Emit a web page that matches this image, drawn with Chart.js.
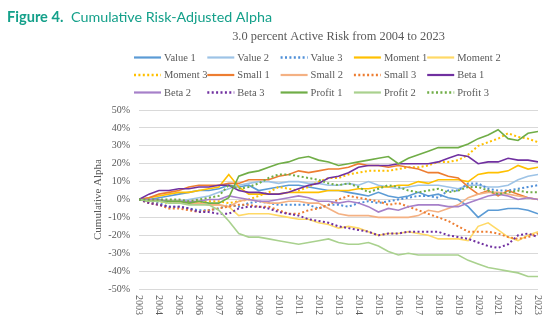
<!DOCTYPE html>
<html>
<head>
<meta charset="utf-8">
<script src="https://cdn.jsdelivr.net/npm/chart.js@4.4.1/dist/chart.umd.min.js"></script>
<style>
  html, body { margin: 0; padding: 0; background: #ffffff; }
  #wrap { position: relative; width: 550px; height: 321px; }
</style>
</head>
<body>
<div id="wrap"><canvas id="chart" width="550" height="321"></canvas></div>
<script>
// Half-year observation points
const periods = [
  2003, 2003.5, 2004, 2004.5, 2005, 2005.5, 2006, 2006.5, 2007, 2007.5,
  2008, 2008.5, 2009, 2009.5, 2010, 2010.5, 2011, 2011.5, 2012, 2012.5,
  2013, 2013.5, 2014, 2014.5, 2015, 2015.5, 2016, 2016.5, 2017, 2017.5,
  2018, 2018.5, 2019, 2019.5, 2020, 2020.5, 2021, 2021.5, 2022, 2022.5,
  2023
];

const yearTicks = ['2003','2004','2005','2006','2007','2008','2009','2010','2011','2012',
  '2013','2014','2015','2016','2017','2018','2019','2020','2021','2022','2023'];

const seriesNames = ['Value 1','Value 2','Value 3','Moment 1','Moment 2','Moment 3',
  'Small 1','Small 2','Small 3','Beta 1','Beta 2','Beta 3','Profit 1','Profit 2','Profit 3'];

// Cumulative alpha, percent
const value1 = [0, 0, 1, 2, 3, 4, 5, 5, 6, 8,
  7, 8, 5, 6, 7, 8, 8, 7, 6, 5,
  5, 4, 3, 2, 4, 2, 1, 2, 4, 2,
  3, 1, 0, -4, -10, -6, -6, -5, -5, -6,
  -8];
const value2 = [0, -1, -1, -1, -1, 0, 1, 2, 4, 6,
  8, 9, 10, 10, 9, 10, 10, 9, 9, 8,
  8, 9, 8, 10, 8, 7, 6, 7, 8, 8,
  8, 7, 6, 8, 8, 7, 7, 8, 11, 13,
  14];
const value3 = [0, -1, -2, -4, -4, -5, -6, -6, -5, -3,
  -4, -2, -1, -2, -3, -3, -3, -3, -5, -3,
  -3, -4, -2, -1, -2, -1, 0, 1, 2, 2,
  1, 5, 5, 9, 9, 6, 5, 5, 6, 7,
  8];
const moment1 = [0, 1, 2, 3, 4, 4, 5, 6, 7, 14,
  7, 3, 3, 3, 3, 4, 4, 4, 4, 5,
  5, 5, 6, 6, 7, 7, 8, 8, 10, 9,
  11, 11, 11, 10, 14, 15, 15, 16, 19, 17,
  18];
const moment2 = [0, 0, -1, -1, -1, -2, -2, -3, -3, -4,
  -9, -8, -8, -8, -9, -10, -11, -11, -13, -14,
  -16, -15, -16, -18, -20, -19, -19, -18, -19, -20,
  -22, -22, -22, -23, -15, -13, -17, -21, -23, -20,
  -18];
const moment3 = [0, -1, -1, -2, -2, -2, -2, -1, -1, -2,
  -1, 0, 2, 4, 7, 6, 5, 7, 10, 12,
  12, 14, 15, 16, 16, 16, 17, 18, 18, 19,
  21, 21, 22, 25, 30, 32, 34, 37, 35, 34,
  32];
const small1 = [0, 1, 3, 4, 5, 7, 8, 8, 8, 9,
  9, 11, 11, 11, 13, 14, 16, 15, 16, 17,
  17, 18, 20, 19, 19, 18, 19, 18, 17, 15,
  15, 13, 12, 7, 3, 5, 2, 5, 3, 1,
  0];
const small2 = [0, -1, -1, -1, -2, -2, -2, -3, -3, -4,
  -1, 0, -1, -2, -2, -1, -1, -2, -2, -5,
  -8, -9, -9, -9, -10, -10, -10, -10, -9, -6,
  -7, -5, -3, 1, 3, 4, 4, 3, 2, 1,
  0];
const small3 = [0, -2, -3, -5, -5, -6, -7, -6, -5, -4,
  -3, -3, -4, -4, -6, -8, -8, -6, -5, -3,
  0, 2, 1, 0, -1, -3, -2, -4, -6, -8,
  -10, -12, -15, -18, -18, -18, -19, -21, -22, -21,
  -19];
const beta1 = [0, 3, 5, 5, 6, 6, 7, 7, 8, 8,
  5, 4, 4, 3, 3, 4, 6, 8, 9, 12,
  13, 15, 18, 19, 19, 19, 20, 20, 20, 20,
  21, 23, 25, 24, 20, 21, 21, 23, 22, 22,
  21];
const beta2 = [0, 0, 0, -1, -1, -1, -1, 0, 0, 2,
  1, 0, -1, -1, 0, 1, 2, 1, -1, -1,
  -2, -1, -2, -4, -7, -5, -6, -4, -3, -3,
  -3, -4, -4, -2, 0, 2, 3, 2, 0, 1,
  0];
const beta3 = [0, -2, -3, -4, -4, -5, -7, -7, -8, -8,
  -5, -4, -4, -5, -7, -8, -9, -11, -12, -13,
  -15, -16, -17, -18, -20, -19, -19, -18, -18, -18,
  -18, -20, -21, -22, -24, -26, -27, -25, -20, -19,
  -21];
const profit1 = [0, -1, -1, -1, -1, -2, -1, -2, -2, 1,
  13, 15, 16, 18, 20, 21, 23, 24, 22, 21,
  19, 20, 21, 22, 23, 24, 20, 23, 25, 27,
  29, 29, 29, 31, 34, 36, 39, 34, 33, 37,
  38];
const profit2 = [0, -1, -1, -2, -2, -3, -3, -3, -6, -12,
  -19, -21, -21, -22, -23, -24, -25, -24, -23, -22,
  -24, -25, -25, -24, -26, -29, -31, -30, -31, -31,
  -31, -31, -31, -34, -36, -38, -39, -40, -41, -43,
  -43];
const profit3 = [0, 0, 0, 0, 0, -1, 0, 1, 2, 8,
  6, 7, 9, 12, 14, 14, 13, 12, 11, 9,
  8, 9, 7, 4, 6, 8, 7, 5, 4, 5,
  6, 4, 5, 7, 7, 5, 3, 4, 5, 4,
  4];

const seriesValues = [value1, value2, value3, moment1, moment2, moment3,
  small1, small2, small3, beta1, beta2, beta3, profit1, profit2, profit3];

// Line styles per series
const styles = [
  { color: '#5B9BD5', dotted: false },
  { color: '#9DC3E6', dotted: false },
  { color: '#4F8FD8', dotted: true },
  { color: '#FFC000', dotted: false },
  { color: '#FFD966', dotted: false },
  { color: '#FFC000', dotted: true },
  { color: '#ED7D31', dotted: false },
  { color: '#F4B183', dotted: false },
  { color: '#ED7D31', dotted: true },
  { color: '#7030A0', dotted: false },
  { color: '#A680C9', dotted: false },
  { color: '#7030A0', dotted: true },
  { color: '#70AD47', dotted: false },
  { color: '#A9D18E', dotted: false },
  { color: '#70AD47', dotted: true }
];

const TEXT_GRAY = '#595959';
const SERIF = '"Liberation Serif", "Times New Roman", serif';
const DOT = [2, 2.4];

const datasets = seriesNames.map((name, i) => ({
  label: name,
  data: periods.map((p, k) => ({ x: p, y: seriesValues[i][k] })),
  borderColor: styles[i].color,
  backgroundColor: styles[i].color,
  borderWidth: styles[i].dotted ? 2 : 1.6,
  borderDash: styles[i].dotted ? DOT : [],
  borderCapStyle: 'butt',
  pointRadius: 0,
  tension: 0,
  fill: false,
  order: seriesNames.length - i
}));

// Heading, subtitle, legend grid and vertical year labels
const decorations = {
  id: 'decorations',
  afterDraw(chart) {
    const ctx = chart.ctx;
    ctx.save();

    // Figure heading
    ctx.fillStyle = '#14A08A';
    ctx.textBaseline = 'alphabetic';
    ctx.textAlign = 'left';
    ctx.font = 'bold 14.6px Lato';
    ctx.fillText('Figure 4.', 7, 22);
    ctx.font = '14.3px Lato';
    ctx.fillText('Cumulative Risk-Adjusted Alpha', 71, 22);

    // Subtitle
    ctx.fillStyle = TEXT_GRAY;
    ctx.font = '12.4px ' + SERIF;
    ctx.textAlign = 'center';
    ctx.textBaseline = 'middle';
    ctx.fillText('3.0 percent Active Risk from 2004 to 2023', 338.5, 37);

    // Legend: five columns, three rows
    ctx.font = '10.5px ' + SERIF;
    ctx.textAlign = 'left';
    chart.data.datasets.forEach((ds, i) => {
      const col = i % 5, row = Math.floor(i / 5);
      const x0 = 134 + col * 73.3;
      const y0 = 57.5 + row * 17.5;
      ctx.beginPath();
      ctx.strokeStyle = ds.borderColor;
      ctx.lineWidth = ds.borderWidth + 0.6;
      ctx.setLineDash(ds.borderDash);
      ctx.lineCap = 'butt';
      ctx.moveTo(x0, y0);
      ctx.lineTo(x0 + 27, y0);
      ctx.stroke();
      ctx.setLineDash([]);
      ctx.fillStyle = TEXT_GRAY;
      ctx.fillText(ds.label, x0 + 30, y0 + 0.5);
    });

    // Year labels, rotated to read downward
    const xs = chart.scales.x;
    const baseY = chart.chartArea.bottom + 6;
    ctx.font = '10px ' + SERIF;
    ctx.fillStyle = TEXT_GRAY;
    ctx.textAlign = 'left';
    ctx.textBaseline = 'middle';
    yearTicks.forEach(label => {
      const px = xs.getPixelForValue(Number(label));
      ctx.save();
      ctx.translate(px, baseY);
      ctx.rotate(Math.PI / 2);
      ctx.fillText(label, 0, 0);
      ctx.restore();
    });

    ctx.restore();
  }
};

new Chart(document.getElementById('chart'), {
  type: 'line',
  data: { datasets },
  options: {
    responsive: false,
    animation: false,
    devicePixelRatio: 1,
    layout: { padding: { left: 88, right: 12, top: 110, bottom: 0 } },
    plugins: {
      legend: { display: false },
      title: { display: false },
      tooltip: { enabled: false }
    },
    scales: {
      x: {
        type: 'linear',
        min: 2003,
        max: 2023,
        ticks: { display: false, stepSize: 1 },
        grid: { display: false },
        border: { display: false },
        afterFit(scale) { scale.height = 32; }
      },
      y: {
        min: -50,
        max: 50,
        ticks: {
          stepSize: 10,
          padding: 9,
          color: TEXT_GRAY,
          font: { family: SERIF, size: 10 },
          callback: v => v + '%'
        },
        grid: { color: '#D9D9D9', lineWidth: 1, drawTicks: false },
        border: { display: false },
        title: {
          display: true,
          text: 'Cumulative Alpha',
          color: TEXT_GRAY,
          font: { family: SERIF, size: 11 },
          padding: { top: 4, bottom: 4 }
        },
        afterFit(scale) { scale.width = 51; }
      }
    }
  },
  plugins: [decorations]
});
</script>
</body>
</html>
